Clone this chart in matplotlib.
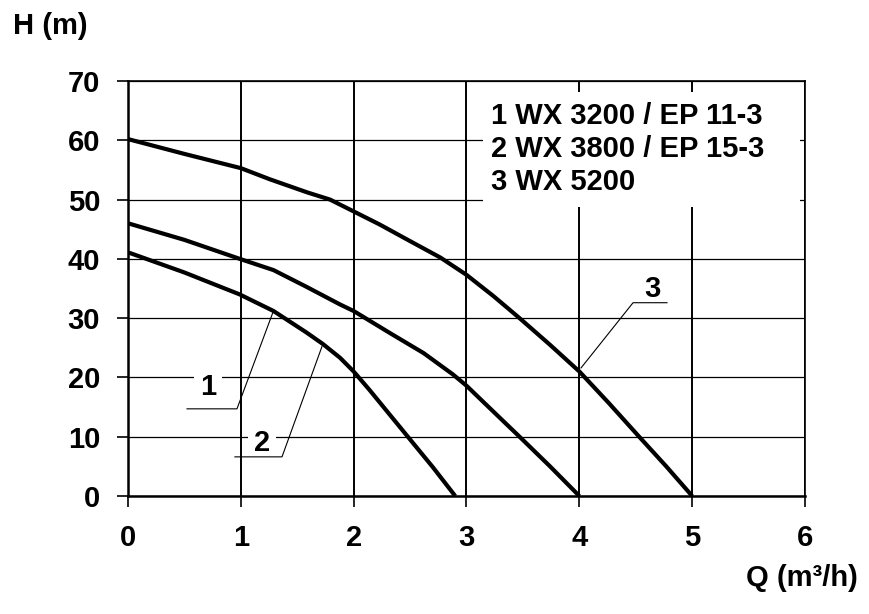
import matplotlib
matplotlib.use("Agg")
import matplotlib.pyplot as plt
from matplotlib.patches import Rectangle

# ------------------------------------------------------------------ #
# data
# ------------------------------------------------------------------ #
q_pump1 = [0, 0.5, 0.99, 1.29, 1.58, 1.73, 1.88, 2.0, 2.14, 2.48, 2.7, 2.9]
h_pump1 = [41.1, 37.7, 34.0, 31.2, 27.6, 25.6, 23.3, 21.0, 17.9, 10.0, 4.9, 0]

q_pump2 = [0, 0.5, 0.99, 1.29, 1.58, 1.88, 2.0, 2.32, 2.62, 2.88, 3.0,
           3.24, 3.47, 3.74, 4.0]
h_pump2 = [46.0, 43.2, 40.0, 38.1, 35.3, 32.3, 31.2, 27.5, 24.1, 20.5, 18.6,
           14.2, 10.0, 5.0, 0]

q_pump3 = [0, 0.5, 1.0, 1.26, 1.59, 1.79, 2.0, 2.23, 2.47, 2.77, 3.0, 3.24,
           3.47, 3.74, 4.0, 4.26, 4.53, 4.77, 5.0]
h_pump3 = [60.2, 57.7, 55.3, 53.4, 51.2, 50.0, 48.0, 45.8, 43.3, 40.2, 37.3,
           33.7, 30.0, 25.5, 21.0, 15.7, 10.0, 5.0, 0]

legend_lines = ["1 WX 3200 / EP 11-3", "2 WX 3800 / EP 15-3", "3 WX 5200"]

x_ticks = [0, 1, 2, 3, 4, 5, 6]
y_ticks = [0, 10, 20, 30, 40, 50, 60, 70]

FS = 21
plt.rcParams["font.family"] = ["Liberation Sans", "DejaVu Sans"]
plt.rcParams["font.weight"] = "bold"

fig = plt.figure(figsize=(8.7, 6.14), dpi=100)
ax = fig.add_axes([0.1471, 0.1922, 0.7782, 0.6759])

ax.set_xlim(0, 6)
ax.set_ylim(0, 70)
ax.set_xticks(x_ticks)
ax.set_yticks(y_ticks)
ax.tick_params(axis="both", direction="out", length=8, width=1.2,
               pad=12, labelsize=FS)
for lab in ax.get_xticklabels() + ax.get_yticklabels():
    lab.set_fontweight("bold")

ax.set_axisbelow(True)
ax.xaxis.grid(True, color="black", linewidth=1.4)
ax.yaxis.grid(True, color="black", linewidth=0.9)

for side in ("left", "bottom"):
    ax.spines[side].set_linewidth(1.8)
for side in ("top", "right"):
    ax.spines[side].set_linewidth(1.2)

# curves
for q, h in ((q_pump1, h_pump1), (q_pump2, h_pump2), (q_pump3, h_pump3)):
    ax.plot(q, h, color="black", linewidth=3.0, solid_capstyle="butt",
            solid_joinstyle="round", zorder=3)

# white panel holding the model list
ax.add_patch(Rectangle((3.146, 48.7), 2.81, 19.4, facecolor="white",
                       edgecolor="none", zorder=2))
for i, txt in enumerate(legend_lines):
    ax.text(3.22, 64.1 - i * 5.6, txt, fontsize=FS, fontweight="bold",
            ha="left", va="center", zorder=4)

# curve labels with leader lines
lbl_box = dict(facecolor="white", edgecolor="none", pad=4)
ax.text(0.709, 18.3, "1", fontsize=FS, fontweight="bold", ha="center",
        va="center", bbox=lbl_box, zorder=4)
ax.plot([0.523, 0.966, 1.285], [14.7, 14.7, 31.0], color="black",
        linewidth=0.8, zorder=4)

ax.text(1.188, 9.0, "2", fontsize=FS, fontweight="bold", ha="center",
        va="center", bbox=lbl_box, zorder=4)
ax.plot([0.948, 1.365, 1.719], [6.6, 6.6, 25.2], color="black",
        linewidth=0.8, zorder=4)

ax.text(4.644, 34.9, "3", fontsize=FS, fontweight="bold", ha="center",
        va="center", zorder=4)
ax.plot([4.777, 4.476, 4.015], [32.6, 32.6, 21.6], color="black",
        linewidth=0.8, zorder=4)

fig.text(0.015, 0.958, "H (m)", fontsize=FS, fontweight="bold",
         ha="left", va="center")
fig.text(0.986, 0.059, "Q (m³/h)", fontsize=FS, fontweight="bold",
         ha="right", va="center")

fig.savefig("out.png", dpi=100)
